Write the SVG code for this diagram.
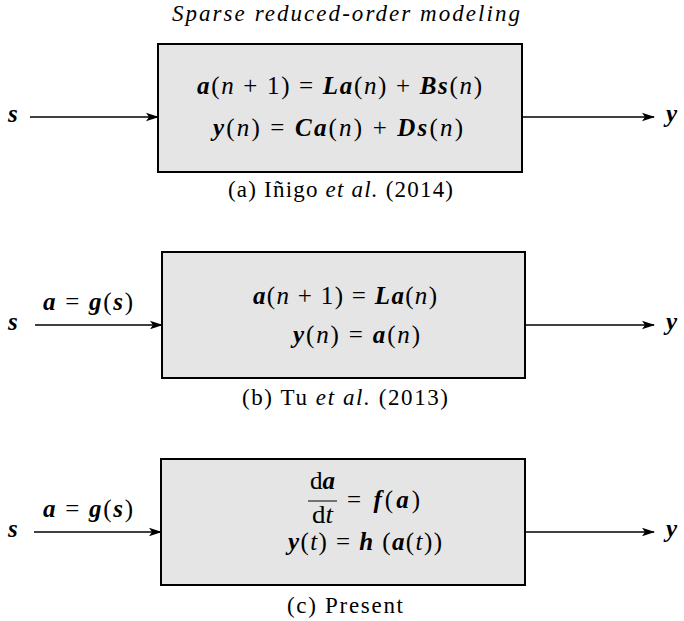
<svg xmlns="http://www.w3.org/2000/svg" width="684" height="621" viewBox="0 0 684 621">
<style>
text{font-family:"Liberation Serif","DejaVu Serif",serif;fill:#000}
.eq{font-size:25px}
.v{font-weight:bold;font-style:italic}
.i{font-style:italic}
.cap{font-size:23px}
.box{fill:#e5e5e5;stroke:#000;stroke-width:2}
.ln{stroke:#000;stroke-width:1.6;fill:none;marker-end:url(#ah)}
.lab{font-size:25px;font-weight:bold;font-style:italic}
</style>
<defs>
<marker id="ah" markerWidth="14" markerHeight="10" refX="12" refY="5" orient="auto" markerUnits="userSpaceOnUse">
<path d="M0,0.8 L13,5 L0,9.2 L3,5 Z" fill="#000"/>
</marker>
</defs>
<text x="172" y="21" font-size="23" font-style="italic" textLength="348" lengthAdjust="spacing">Sparse reduced-order modeling</text>
<g id="connectors">
<line class="ln" x1="30" y1="117" x2="158" y2="117"/>
<line class="ln" x1="522" y1="117" x2="654" y2="117"/>
<line class="ln" x1="35" y1="325" x2="162" y2="325"/>
<line class="ln" x1="525" y1="325" x2="654" y2="325"/>
<line class="ln" x1="34" y1="532" x2="161" y2="532"/>
<line class="ln" x1="525" y1="532" x2="654" y2="532"/>
<text class="lab" x="8" y="122">s</text>
<text class="lab" x="666" y="122">y</text>
<text class="lab" x="8" y="330">s</text>
<text class="lab" x="666" y="330">y</text>
<text class="lab" x="8" y="537">s</text>
<text class="lab" x="666" y="537">y</text>
<text class="eq" x="43" y="310" textLength="90" lengthAdjust="spacing"><tspan class="v">a</tspan> = <tspan class="v">g</tspan>(<tspan class="v">s</tspan>)</text>
<text class="eq" x="43" y="517" textLength="90" lengthAdjust="spacing"><tspan class="v">a</tspan> = <tspan class="v">g</tspan>(<tspan class="v">s</tspan>)</text>
</g>
<g id="node-a">
<rect class="box" x="158" y="44" width="364" height="128"/>
<text class="eq" x="197" y="94" textLength="285" lengthAdjust="spacing"><tspan class="v">a</tspan>(<tspan class="i">n</tspan> + 1) = <tspan class="v">La</tspan>(<tspan class="i">n</tspan>) + <tspan class="v">Bs</tspan>(<tspan class="i">n</tspan>)</text>
<text class="eq" x="213" y="136" textLength="250" lengthAdjust="spacing"><tspan class="v">y</tspan>(<tspan class="i">n</tspan>) = <tspan class="v">Ca</tspan>(<tspan class="i">n</tspan>) + <tspan class="v">Ds</tspan>(<tspan class="i">n</tspan>)</text>
<text class="cap" x="228" y="197" textLength="225" lengthAdjust="spacing">(a) Iñigo <tspan class="i">et al.</tspan> (2014)</text>
</g>
<g id="node-b">
<rect class="box" x="162" y="252" width="363" height="126"/>
<text class="eq" x="253" y="304" textLength="184" lengthAdjust="spacing"><tspan class="v">a</tspan>(<tspan class="i">n</tspan> + 1) = <tspan class="v">La</tspan>(<tspan class="i">n</tspan>)</text>
<text class="eq" x="293" y="343" textLength="127" lengthAdjust="spacing"><tspan class="v">y</tspan>(<tspan class="i">n</tspan>) = <tspan class="v">a</tspan>(<tspan class="i">n</tspan>)</text>
<text class="cap" x="242" y="405" textLength="206" lengthAdjust="spacing">(b) Tu <tspan class="i">et al.</tspan> (2013)</text>
</g>
<g id="node-c">
<rect class="box" x="161" y="459" width="364" height="126"/>
<text class="eq" x="310" y="489" textLength="25" lengthAdjust="spacingAndGlyphs">d<tspan class="v">a</tspan></text>
<line x1="308" y1="501" x2="337" y2="501" stroke="#000" stroke-width="1"/>
<text class="eq" x="312" y="523" textLength="21" lengthAdjust="spacingAndGlyphs">d<tspan class="i">t</tspan></text>
<text class="eq" x="347" y="508" textLength="73" lengthAdjust="spacing">= <tspan class="v">f</tspan>(<tspan class="v">a</tspan>)</text>
<text class="eq" x="288" y="550" textLength="154" lengthAdjust="spacing"><tspan class="v">y</tspan>(<tspan class="i">t</tspan>) = <tspan class="v">h</tspan> (<tspan class="v">a</tspan>(<tspan class="i">t</tspan>))</text>
<text class="cap" x="287" y="613" textLength="116" lengthAdjust="spacing">(c) Present</text>
</g>
</svg>
